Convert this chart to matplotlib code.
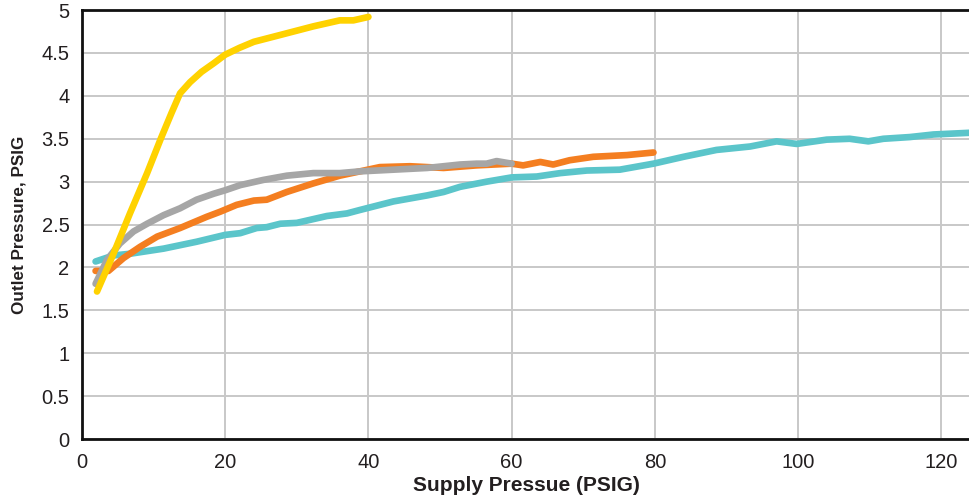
import matplotlib
matplotlib.use("Agg")
import matplotlib.pyplot as plt

plt.rcParams['font.family'] = ['Liberation Sans', 'DejaVu Sans']

# Yellow series
yellow_x = [2.1, 4.4, 6.7, 9.1, 11.0, 12.5, 13.7, 15.1, 16.7, 18.4, 20.0, 22.0, 24.0, 27.7, 32.3, 36.0, 37.9, 40.0]
yellow_y = [1.72, 2.16, 2.63, 3.10, 3.50, 3.80, 4.03, 4.16, 4.28, 4.38, 4.48, 4.56, 4.63, 4.71, 4.81, 4.88, 4.88, 4.92]

# Gray series
gray_x = [1.9, 3.5, 5.3, 7.2, 9.1, 11.4, 13.7, 16.0, 18.4, 20.0, 22.1, 25.3, 28.6, 32.3, 36.0, 38.8, 43.5, 48.2, 52.8, 55.1, 56.5, 57.9, 60.0]
gray_y = [1.81, 2.09, 2.28, 2.42, 2.51, 2.61, 2.69, 2.79, 2.86, 2.90, 2.96, 3.02, 3.07, 3.10, 3.10, 3.12, 3.14, 3.16, 3.20, 3.21, 3.21, 3.24, 3.21]

# Orange series
orange_x = [1.9, 3.7, 5.8, 8.1, 10.5, 13.7, 17.4, 19.3, 21.6, 24.0, 25.8, 28.6, 32.3, 36.0, 38.8, 41.6, 45.8, 50.5, 55.1, 60.0, 61.6, 64.0, 65.8, 68.1, 71.4, 76.1, 79.8]
orange_y = [1.96, 1.96, 2.11, 2.24, 2.36, 2.46, 2.59, 2.65, 2.73, 2.78, 2.79, 2.88, 2.98, 3.07, 3.12, 3.17, 3.18, 3.16, 3.19, 3.21, 3.19, 3.23, 3.20, 3.25, 3.29, 3.31, 3.34]

# Teal series
teal_x = [1.9, 4.4, 6.7, 11.4, 16.0, 20.0, 22.1, 24.4, 25.8, 27.7, 30.0, 34.2, 37.0, 38.8, 43.5, 48.2, 50.5, 52.8, 56.5, 60.0, 63.5, 66.8, 70.5, 75.1, 79.8, 84.0, 88.6, 93.3, 97.0, 99.8, 104.0, 107.2, 109.8, 111.9, 115.6, 118.9, 124.0]
teal_y = [2.07, 2.14, 2.16, 2.22, 2.30, 2.38, 2.40, 2.46, 2.47, 2.51, 2.52, 2.60, 2.63, 2.67, 2.77, 2.84, 2.88, 2.94, 3.00, 3.05, 3.06, 3.10, 3.13, 3.14, 3.21, 3.29, 3.37, 3.41, 3.47, 3.44, 3.49, 3.50, 3.47, 3.50, 3.52, 3.55, 3.57]

x_ticks = [0, 20, 40, 60, 80, 100, 120]
y_ticks = [0, 0.5, 1, 1.5, 2, 2.5, 3, 3.5, 4, 4.5, 5]
y_tick_labels = ['0', '0.5', '1', '1.5', '2', '2.5', '3', '3.5', '4', '4.5', '5']

fig = plt.figure(figsize=(9.7, 5.03), dpi=100)
ax = fig.add_axes([0.0845, 0.127, 0.9155, 0.853])

lw = 4.8
ax.plot(teal_x, teal_y, color='#5BC5CA', lw=lw, solid_capstyle='round', solid_joinstyle='round', zorder=3)
ax.plot(orange_x, orange_y, color='#F47E20', lw=lw, solid_capstyle='round', solid_joinstyle='round', zorder=4)
ax.plot(gray_x, gray_y, color='#A6A6A6', lw=lw, solid_capstyle='round', solid_joinstyle='round', zorder=5)
ax.plot(yellow_x, yellow_y, color='#FFD200', lw=lw, solid_capstyle='round', solid_joinstyle='round', zorder=6)

ax.set_xlim(0, 124)
ax.set_ylim(0, 5)
ax.set_xticks(x_ticks)
ax.set_yticks(y_ticks)
ax.set_yticklabels(y_tick_labels)
ax.tick_params(axis='both', length=0, labelsize=14.5, colors='#231F20')
ax.tick_params(axis='x', pad=10)
ax.tick_params(axis='y', pad=9)

ax.grid(True, color='#C8C8C8', lw=1.4)
ax.set_axisbelow(True)

for s in ['left', 'bottom', 'top']:
    ax.spines[s].set_color('#111111')
    ax.spines[s].set_linewidth(2)
ax.spines['right'].set_visible(False)

ax.set_xlabel('Supply Pressue (PSIG)', fontsize=15, fontweight='bold', color='#231F20', labelpad=3)
ax.set_ylabel('Outlet Pressure, PSIG', fontsize=12.3, fontweight='bold', color='#231F20', labelpad=11)

fig.savefig('out.png', dpi=100)
